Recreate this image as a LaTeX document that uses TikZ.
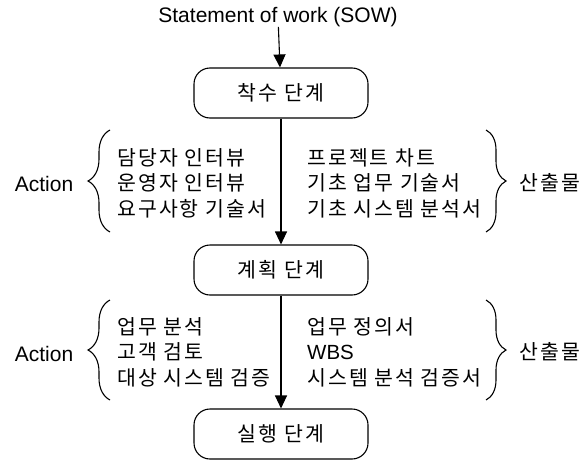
\documentclass[tikz,border=0pt]{standalone}
\usepackage{fontspec}
\setmainfont{Liberation Sans}
\newfontfamily\kfont[LetterSpace=10]{Noto Sans CJK KR}
\usetikzlibrary{positioning,shapes,arrows.meta,decorations.pathreplacing}

\begin{document}
\begin{tikzpicture}[
            x=1pt, y=-1pt,
            stage/.style={draw, rounded corners=16pt, line width=1.1pt, minimum width=174pt, minimum height=50pt, font=\kfont\fontsize{20.5}{24}\selectfont},
            items/.style={align=left, anchor=west, inner sep=0pt, font=\kfont\fontsize{20.5}{25.5}\selectfont},
            side/.style={inner sep=0pt, font=\fontsize{21}{25}\selectfont},
            flow/.style={line width=1.1pt, -{Triangle[length=13pt,width=12pt]}},
            curly/.style={decorate, decoration={brace, amplitude=22pt}, line width=1.1pt}
        ]
            \useasboundingbox (0,0) rectangle (585,460);
            % Stages
            \node[side] (sow) at (278,17) {Statement of work (SOW)};
            \node[stage] (s1) at (281,93) {착수 단계};
            \node[stage] (s2) at (281,270) {계획 단계};
            \node[stage] (s3) at (281,434) {실행 단계};
            % Actions and outputs
            \node[items] (act1) at (117,183) {담당자 인터뷰\\운영자 인터뷰\\요구사항 기술서};
            \node[items] (out1) at (307,183) {프로젝트 차트\\기초 업무 기술서\\기초 시스템 분석서};
            \node[items] (act2) at (117,352) {업무 분석\\고객 검토\\대상 시스템 검증};
            \node[items] (out2) at (307,352) {업무 정의서\\\fontspec{Liberation Sans}WBS\\시스템 분석 검증서};
            \node[side] (lab1) at (44,184) {Action};
            \node[side] (lab2) at (44,354) {Action};
            \node[side, font=\kfont\fontsize{20.5}{24}\selectfont] (res1) at (550,183) {산출물};
            \node[side, font=\kfont\fontsize{20.5}{24}\selectfont] (res2) at (550,352) {산출물};
            % Brace ends
            \coordinate (lb1a) at (110,232);
            \coordinate (lb1b) at (110,130);
            \coordinate (rb1a) at (486,130);
            \coordinate (rb1b) at (486,232);
            \coordinate (lb2a) at (110,400);
            \coordinate (lb2b) at (110,300);
            \coordinate (rb2a) at (486,300);
            \coordinate (rb2b) at (486,400);
            % Flow
            \draw[flow] (sow) -- (s1);
            \draw[flow] (s1) -- (s2);
            \draw[flow] (s2) -- (s3);
            % Braces
            \draw[curly] (lb1a) -- (lb1b);
            \draw[curly, decoration={amplitude=20pt}] (rb1a) -- (rb1b);
            \draw[curly] (lb2a) -- (lb2b);
            \draw[curly, decoration={amplitude=20pt}] (rb2a) -- (rb2b);
        \end{tikzpicture}
\end{document}
